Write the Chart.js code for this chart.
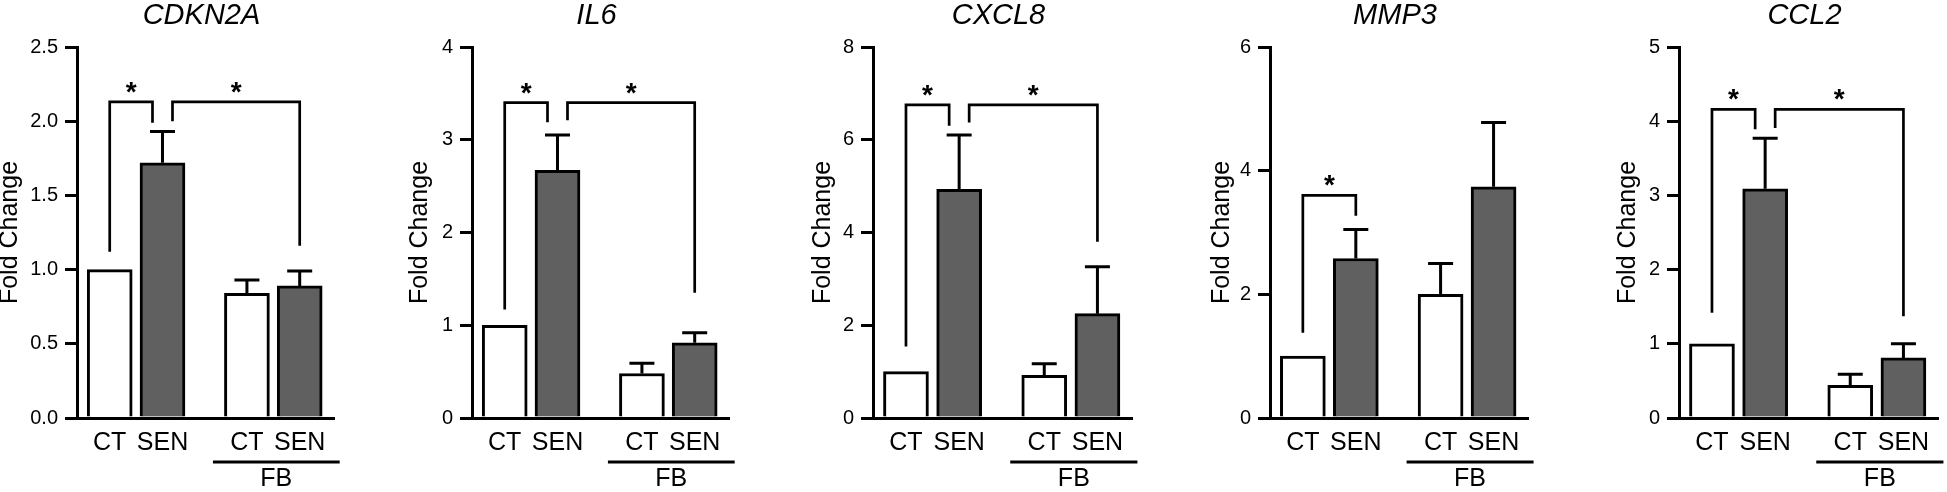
<!DOCTYPE html>
<html>
<head>
<meta charset="utf-8">
<script src="https://cdn.jsdelivr.net/npm/chart.js@4.4.1/dist/chart.umd.min.js"></script>
<style>
  html, body { margin: 0; padding: 0; background: #fff; }
  body { width: 1947px; height: 492px; position: relative; overflow: hidden; }
  canvas { position: absolute; top: 0; }
</style>
</head>
<body>
<script>
// categories
const genes = ['CDKN2A', 'IL6', 'CXCL8', 'MMP3', 'CCL2'];
const conditions = ['CT', 'SEN', 'CT', 'SEN'];
const groupLabel = 'FB';

// fold change per bar (CT, SEN, FB CT, FB SEN) and upper error
const cdkn2aMean = [1.00, 1.72, 0.84, 0.89];
const cdkn2aErr  = [0, 0.21, 0.09, 0.10];
const il6Mean    = [1.00, 2.67, 0.48, 0.81];
const il6Err     = [0, 0.38, 0.11, 0.11];
const cxcl8Mean  = [1.00, 4.93, 0.92, 2.25];
const cxcl8Err   = [0, 1.17, 0.25, 1.01];
const mmp3Mean   = [1.00, 2.58, 2.00, 3.74];
const mmp3Err    = [0, 0.47, 0.50, 1.04];
const ccl2Mean   = [1.00, 3.09, 0.44, 0.81];
const ccl2Err    = [0, 0.68, 0.15, 0.19];

// y axes
const yMax  = [2.5, 4, 8, 6, 5];
const yStep = [0.5, 1, 2, 2, 1];

// significance brackets: [from bar, to bar, left leg end, top, right leg end]
const cdkn2aSig = [[0, 1, 1.12, 2.13, 1.99], [1, 3, 2.00, 2.13, 1.16]];
const il6Sig    = [[0, 1, 1.17, 3.40, 3.19], [1, 3, 3.21, 3.40, 1.35]];
const cxcl8Sig  = [[0, 1, 1.54, 6.75, 6.30], [1, 3, 6.37, 6.75, 3.80]];
const mmp3Sig   = [[0, 1, 1.38, 3.60, 3.27]];
const ccl2Sig   = [[0, 1, 1.42, 4.16, 3.89], [1, 3, 3.91, 4.16, 1.37]];

const means = [cdkn2aMean, il6Mean, cxcl8Mean, mmp3Mean, ccl2Mean];
const errs  = [cdkn2aErr, il6Err, cxcl8Err, mmp3Err, ccl2Err];
const sigs  = [cdkn2aSig, il6Sig, cxcl8Sig, mmp3Sig, ccl2Sig];

// layout
const axisLeft  = [77, 472, 873, 1270, 1679];
const axisRight = [334, 729, 1132, 1528, 1938];
const yTitleX   = [10, 420, 823, 1222, 1628];
const plotTop = 47, plotBottom = 418, H = 492;
const barSlots = [0, 1, 2.6, 3.6];

Chart.defaults.font.family = "'Liberation Sans', Arial, sans-serif";
Chart.defaults.color = '#000';

function annotations(p) {
  return {
    id: 'annotations',
    afterDatasetsDraw(chart) {
      const { ctx, scales: { y }, chartArea } = chart;
      const bars = chart.getDatasetMeta(0).data;
      ctx.save();
      ctx.strokeStyle = '#000';
      ctx.fillStyle = '#000';
      ctx.textAlign = 'center';

      // error bars (upper only)
      ctx.lineWidth = 3;
      errs[p].forEach((e, i) => {
        if (!e) return;
        const cx = bars[i].x;
        const y0 = y.getPixelForValue(means[p][i]);
        const y1 = y.getPixelForValue(means[p][i] + e);
        ctx.beginPath();
        ctx.moveTo(cx, y0); ctx.lineTo(cx, y1);
        ctx.moveTo(cx - 12.5, y1); ctx.lineTo(cx + 12.5, y1);
        ctx.stroke();
      });

      // brackets with stars
      const used = {};
      sigs[p].forEach(s => { used[s[0]] = (used[s[0]] || 0) + 1; used[s[1]] = (used[s[1]] || 0) + 1; });
      ctx.lineWidth = 2.7;
      ctx.font = "bold 28px 'Liberation Sans'";
      ctx.textBaseline = 'alphabetic';
      sigs[p].forEach(s => {
        const xl = bars[s[0]].x + (used[s[0]] > 1 ? 10 : 0);
        const xr = bars[s[1]].x - (used[s[1]] > 1 ? 10 : 0);
        const yt = y.getPixelForValue(s[3]);
        ctx.beginPath();
        ctx.moveTo(xl, y.getPixelForValue(s[2]));
        ctx.lineTo(xl, yt);
        ctx.lineTo(xr, yt);
        ctx.lineTo(xr, y.getPixelForValue(s[4]));
        ctx.stroke();
        ctx.fillText('*', (xl + xr) / 2, yt - 1);
      });

      // FB group line and label
      const gx0 = bars[2].x - 34, gx1 = bars[3].x + 40;
      ctx.lineWidth = 3;
      ctx.beginPath();
      ctx.moveTo(gx0, 462); ctx.lineTo(gx1, 462);
      ctx.stroke();
      ctx.font = "25px 'Liberation Sans'";
      ctx.textBaseline = 'middle';
      ctx.fillText(groupLabel, (gx0 + gx1) / 2, 479);

      // gene title
      ctx.font = "italic 29px 'Liberation Sans'";
      ctx.textBaseline = 'alphabetic';
      ctx.fillText(genes[p], (chartArea.left + chartArea.right) / 2 - 4, 24);
      ctx.restore();
    }
  };
}

genes.forEach((gene, p) => {
  const left = yTitleX[p] - 15;
  const width = axisRight[p] + 24 - left;
  const cv = document.createElement('canvas');
  cv.width = width; cv.height = H;
  cv.style.left = left + 'px';
  cv.style.width = width + 'px';
  cv.style.height = H + 'px';
  document.body.appendChild(cv);

  new Chart(cv, {
    type: 'bar',
    data: {
      datasets: [{
        data: means[p].map((v, i) => ({ x: barSlots[i], y: v })),
        backgroundColor: means[p].map((v, i) => i % 2 ? '#606060' : '#ffffff'),
        borderColor: '#000',
        borderWidth: 3,
        barThickness: 45
      }]
    },
    options: {
      responsive: false,
      animation: false,
      layout: { padding: { top: plotTop, right: width - (axisRight[p] - left), left: 0, bottom: 0 } },
      plugins: { legend: { display: false }, tooltip: { enabled: false } },
      scales: {
        x: {
          type: 'linear',
          min: -0.62,
          max: 4.25,
          offset: false,
          afterBuildTicks: s => { s.ticks = barSlots.map(v => ({ value: v })); },
          afterFit: s => { s.height = H - plotBottom; },
          grid: { display: true, offset: false, drawOnChartArea: false, drawTicks: false },
          border: { display: true, color: '#000', width: 3 },
          ticks: {
            autoSkip: false, maxRotation: 0, padding: 10, color: '#000',
            font: { size: 25 },
            callback: (v, i) => conditions[i]
          }
        },
        y: {
          min: 0,
          max: yMax[p],
          afterFit: s => { s.width = axisLeft[p] - left; },
          ticks: {
            stepSize: yStep[p], padding: 7, color: '#000',
            font: { size: 20 },
            callback: v => v.toFixed(yStep[p] < 1 ? 1 : 0)
          },
          grid: { drawOnChartArea: false, drawTicks: true, tickLength: 12, lineWidth: 3, color: '#000' },
          border: { color: '#000', width: 3 },
          title: { display: true, text: 'Fold Change', color: '#000', font: { size: 25 }, padding: 0 }
        }
      }
    },
    plugins: [annotations(p)]
  });
});
</script>
</body>
</html>
